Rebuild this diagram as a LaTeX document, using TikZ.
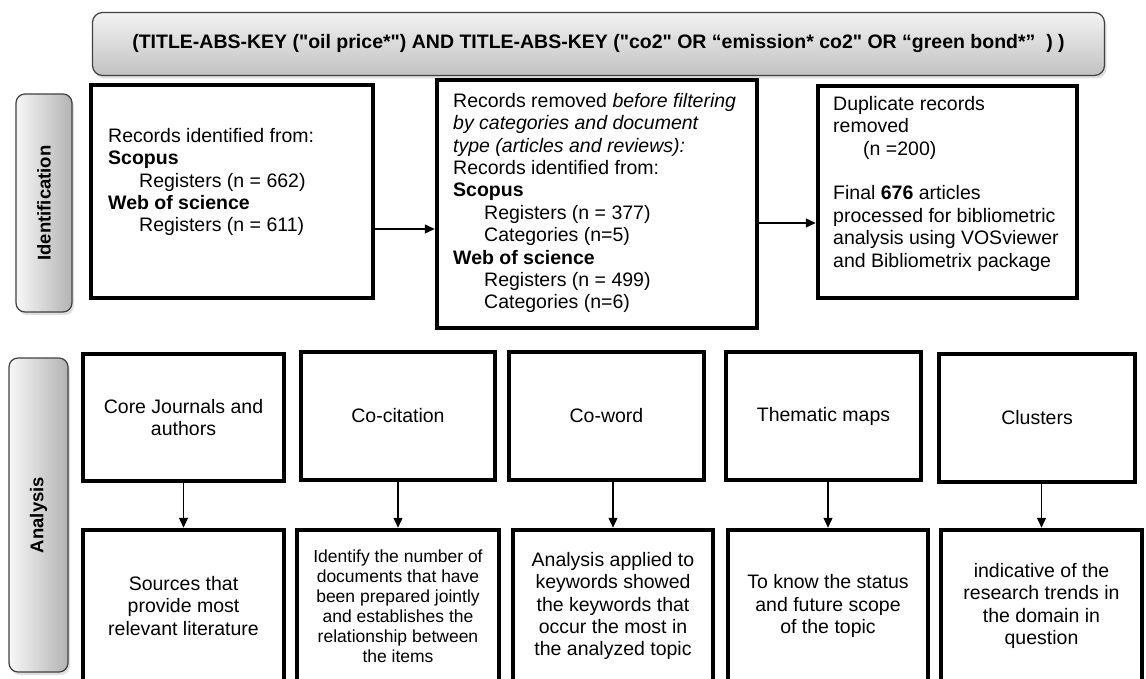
\documentclass[tikz,border=0pt]{standalone}
\usepackage{fontspec}
% keep typed quote characters exactly as written
\setmainfont{Liberation Sans}[Ligatures=TeXOff]
\usetikzlibrary{arrows.meta,shadows}

\begin{document}
\begin{tikzpicture}[x=1pt,y=-1pt,
  every node/.style={font=\fontsize{19.5}{22.4}\selectfont},
  box/.style={draw=black, line width=4.5pt, fill=white, inner sep=0pt, align=center},
  query/.style={draw=black!75, line width=1.2pt, rounded corners=10pt,
    top color=black!5, bottom color=black!24,
    drop shadow={opacity=0.25, shadow xshift=2pt, shadow yshift=-3pt},
    inner sep=0pt, font=\bfseries\fontsize{19.5}{22.4}\selectfont},
  phase/.style={draw=black!75, line width=1.2pt, rounded corners=9pt,
    left color=black!3, right color=black!30,
    drop shadow={opacity=0.25, shadow xshift=2pt, shadow yshift=-3pt}},
  phasetext/.style={rotate=90, inner sep=0pt, font=\bfseries\fontsize{18.5}{22}\selectfont},
  blk/.style={inner sep=0pt, anchor=north west, align=left},
  flow/.style={line width=1.3pt, -{Triangle[length=10pt,width=9pt]}}
]
\useasboundingbox (0,0) rectangle (1146,679);
\clip (0,0) rectangle (1146,679);

% search query banner
\node[query, minimum width=1012pt, minimum height=63pt] (query) at (598.5,44)
  {(TITLE-ABS-KEY ("oil price*") AND TITLE-ABS-KEY ("co2" OR “emission* co2" OR “green bond*”\ \ ) )};

% phase labels
\node[phase, minimum width=56pt, minimum height=218pt] (idphase) at (44,203) {};
\node[phasetext] (idtext) at (idphase.center) {Identification};
\node[phase, minimum width=59pt, minimum height=314pt] (anphase) at (38.5,515) {};
\node[phasetext] (antext) at (anphase.center) {Analysis};

% identification boxes
\node[box, minimum width=282pt, minimum height=213pt] (records) at (232,191.5) {};
\node[box, minimum width=320pt, minimum height=248pt] (filtered) at (597,204) {};
\node[box, minimum width=259pt, minimum height=212pt] (final) at (947.5,192) {};

\node[blk] (recordstext) at (108,128) {Records identified from:\\
  \textbf{Scopus}\\
  \hspace*{31pt}Registers (n = 662)\\
  \textbf{Web of science}\\
  \hspace*{31pt}Registers (n = 611)};

\node[blk] (filteredtext) at (453,93) {Records removed \textit{before filtering}\\
  \textit{by categories and document}\\
  \textit{type (articles and reviews):}\\
  Records identified from:\\
  \textbf{Scopus}\\
  \hspace*{31pt}Registers (n = 377)\\
  \hspace*{31pt}Categories (n=5)\\
  \textbf{Web of science}\\
  \hspace*{31pt}Registers (n = 499)\\
  \hspace*{31pt}Categories (n=6)};

\node[blk] (finaltext) at (833,96) {Duplicate records\\
  removed\\
  \hspace*{30pt}(n =200)\\[22.4pt]
  Final \textbf{676} articles\\
  processed for bibliometric\\
  analysis using VOSviewer\\
  and Bibliometrix package};

\draw[flow] (records.east |- 0,229) -- (filtered.west |- 0,229);
\draw[flow] (filtered.east |- 0,223) -- (final.west |- 0,223);

% analysis methods
\node[box, minimum width=201pt, minimum height=127pt] (m1) at (183.5,417.5) {Core Journals and\\authors};
\node[box, minimum width=194pt, minimum height=128pt] (m2) at (398,416) {Co-citation};
\node[box, minimum width=195pt, minimum height=128pt] (m3) at (606.5,416) {Co-word};
\node[box, minimum width=195pt, minimum height=128pt] (m4) at (823.5,416) {Thematic maps};
\node[box, minimum width=196pt, minimum height=128pt] (m5) at (1037,418) {Clusters};

% what each method yields
\node[box, minimum width=201pt, minimum height=152pt] (r1) at (183.5,606)
  {Sources that\\provide most\\relevant literature};
\node[box, minimum width=202pt, minimum height=152pt, font=\fontsize{17.5}{20}\selectfont] (r2) at (398,606)
  {Identify the number of\\documents that have\\been prepared jointly\\and establishes the\\relationship between\\the items};
\node[box, minimum width=200pt, minimum height=152pt] (r3) at (613,606)
  {Analysis applied to\\keywords showed\\the keywords that\\occur the most in\\the analyzed topic};
\node[box, minimum width=200pt, minimum height=152pt] (r4) at (828,606)
  {To know the status\\and future scope\\of the topic};
\node[box, minimum width=201pt, minimum height=152pt] (r5) at (1041.5,606)
  {indicative of the\\research trends in\\the domain in\\question};

\foreach \i in {1,...,5}
  \draw[flow] (m\i.south -| r\i.north) -- (r\i.north);
\end{tikzpicture}
\end{document}
